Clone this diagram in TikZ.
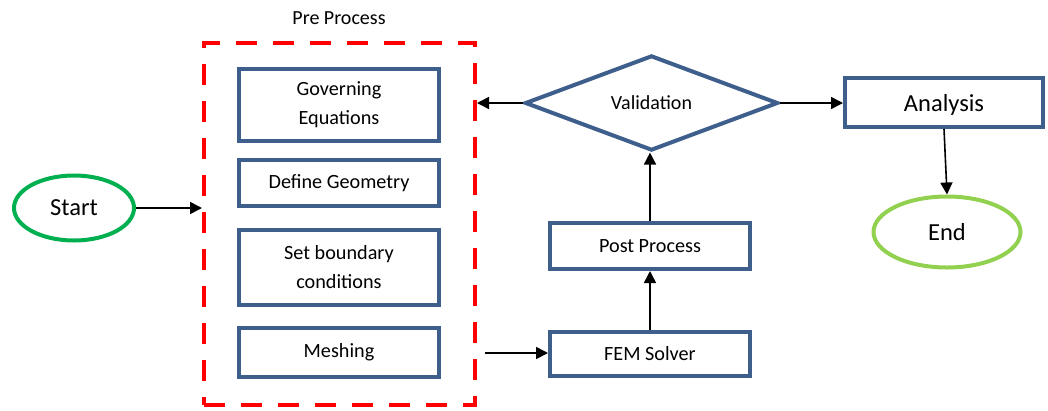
\documentclass[tikz,border=0pt]{standalone}
\usepackage{fontspec}
\setmainfont{Carlito}
\usetikzlibrary{shapes.geometric,arrows.meta}
\definecolor{boxblue}{RGB}{62,94,140}
\definecolor{startgreen}{RGB}{0,176,80}
\definecolor{endgreen}{RGB}{146,208,80}
\definecolor{dashred}{RGB}{255,0,0}
\begin{document}
\begin{tikzpicture}[x=1pt,y=-1pt,
  stepbox/.style={draw=boxblue,line width=4pt,rectangle,inner sep=0pt,align=center,
    font=\fontsize{20.2}{29}\selectfont},
  term/.style={ellipse,line width=4pt,inner sep=0pt,font=\fontsize{24.5}{28}\selectfont},
  conn/.style={line width=1.6pt,-{Triangle[length=12pt,width=12pt]}}
]
\useasboundingbox (0,0) rectangle (1048,410);
% pre-process dashed frame
\node[draw=dashred,line width=4pt,dash pattern=on 21pt off 16pt,rectangle,inner sep=0pt,
  minimum width=271pt,minimum height=362pt] (pre) at (339.5,224) {};
\node[font=\fontsize{20}{24}\selectfont] (prelabel) at (339,18) {Pre Process};
% pre-process steps
\node[stepbox,minimum width=200pt,minimum height=72pt] (gov) at (339,105) {Governing\\Equations};
\node[stepbox,minimum width=200pt,minimum height=46pt] (geo) at (339,183) {Define Geometry};
\node[stepbox,minimum width=200pt,minimum height=75pt] (bc) at (339,267.5) {Set boundary\\conditions};
\node[stepbox,minimum width=200pt,minimum height=49pt] (mesh) at (339,352.5) {Meshing};
% terminals
\node[term,draw=startgreen,minimum width=120pt,minimum height=65pt] (start) at (74,208) {Start};
\node[term,draw=endgreen,minimum width=147pt,minimum height=71pt] (end) at (947,232) {End};
% right part
\node[stepbox,minimum width=200pt,minimum height=44pt] (fem) at (650,354) {FEM Solver};
\node[stepbox,minimum width=200pt,minimum height=46pt] (post) at (650,246) {Post Process};
\node[diamond,draw=boxblue,line width=4pt,inner sep=0pt,minimum width=253pt,minimum height=88pt,
  font=\fontsize{20}{24}\selectfont] (val) at (651.5,103) {Validation};
\node[stepbox,minimum width=198pt,minimum height=49pt,text depth=0pt,
  font=\fontsize{24.5}{28}\selectfont] (ana) at (944,102.5) {Analysis};
% connectors
\coordinate (meshout) at (485,353);
\draw[conn] (start.east) -- (start.east -| pre.west);
\draw[conn] (val.west) -- (val.west -| pre.east);
\draw[conn] (meshout) -- (meshout -| fem.west);
\draw[conn] (fem.north) -- (post.south);
\draw[conn] (post.north) -- (post.north |- val.south);
\draw[conn] (val.east) -- (val.east -| ana.west);
\draw[conn] (ana.south) -- (end.north);
\end{tikzpicture}
\end{document}
